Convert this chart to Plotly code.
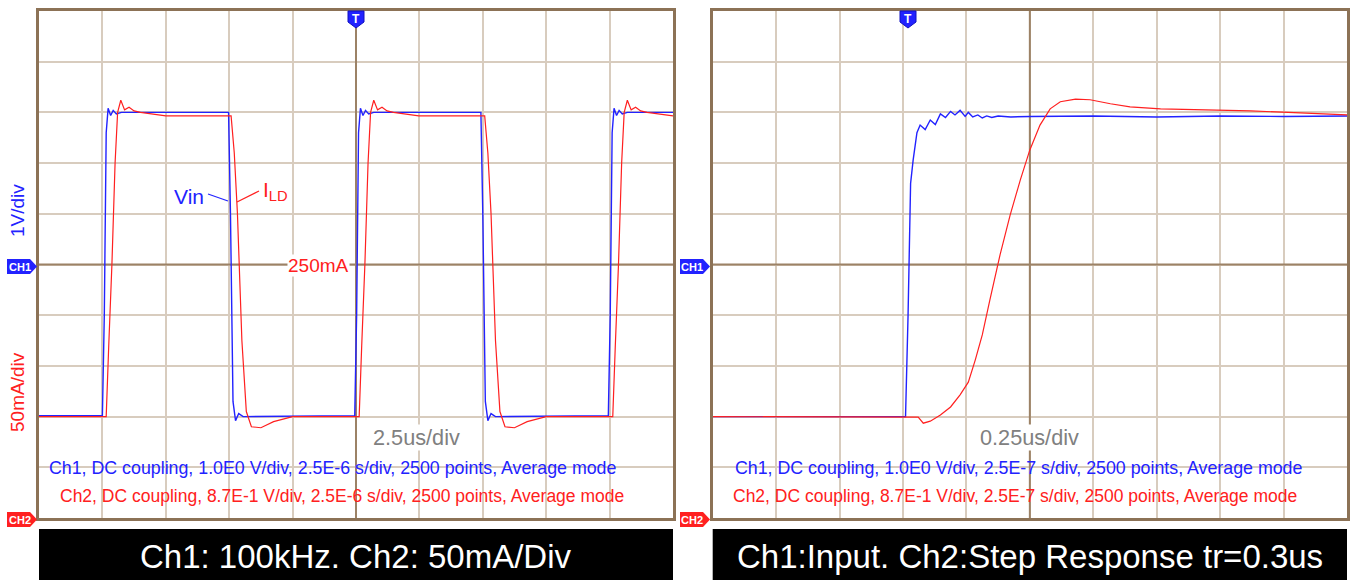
import plotly.graph_objects as go

W, H = 1351, 580

# ---------------- data (time in divisions, amplitude in divisions) ----------------
# Left panel: 100 kHz square wave, 2.5us/div
vin_l_t = [0, 1.00, 1.03, 1.06, 1.09, 1.13, 1.17, 1.22, 1.30, 2.99, 3.02, 3.06, 3.10, 3.15, 3.22,
           4.98, 5.01, 5.04, 5.07, 5.11, 5.15, 5.20, 5.28, 6.97, 7.00, 7.04, 7.08, 7.13, 7.20,
           8.98, 9.01, 9.04, 9.07, 9.11, 9.15, 9.20, 9.28, 10]
vin_l_v = [-2.98, -2.98, -1.0, 2.6, 3.08, 2.94, 3.04, 2.97, 3.0, 3.0, 1.0, -2.7, -3.08, -2.94, -3.0,
           -2.98, -1.0, 2.6, 3.08, 2.94, 3.04, 2.97, 3.0, 3.0, 1.0, -2.7, -3.08, -2.94, -3.0,
           -2.98, -1.0, 2.6, 3.08, 2.94, 3.04, 2.97, 3.0, 3.0]

ild_l_t = [0, 1.06, 1.10, 1.15, 1.20, 1.24, 1.29, 1.35, 1.42, 1.50, 1.60, 1.80, 2.00,
           3.03, 3.08, 3.13, 3.20, 3.27, 3.35, 3.50, 3.70, 4.00,
           5.05, 5.09, 5.14, 5.19, 5.23, 5.28, 5.34, 5.41, 5.49, 5.59, 5.79, 5.99,
           7.03, 7.08, 7.13, 7.20, 7.27, 7.35, 7.50, 7.70, 8.00,
           9.05, 9.09, 9.14, 9.19, 9.23, 9.28, 9.34, 9.41, 9.49, 9.59, 9.79, 10]
ild_l_v = [-3.0, -3.0, -1.6, 0.0, 2.0, 3.0, 3.24, 3.05, 3.10, 3.03, 3.0, 2.96, 2.93,
           2.93, 2.2, 1.0, -1.5, -2.9, -3.2, -3.22, -3.1, -3.0,
           -3.0, -1.6, 0.0, 2.0, 3.0, 3.24, 3.05, 3.10, 3.03, 3.0, 2.96, 2.93,
           2.93, 2.2, 1.0, -1.5, -2.9, -3.2, -3.22, -3.1, -3.0,
           -3.0, -1.6, 0.0, 2.0, 3.0, 3.24, 3.05, 3.10, 3.03, 3.0, 2.96, 2.93]

# Right panel: step response, 0.25us/div
vin_r_t = [0, 3.04, 3.08, 3.12, 3.16, 3.22, 3.27, 3.35, 3.43, 3.51, 3.59, 3.67, 3.75, 3.82,
           3.90, 3.98, 4.03, 4.10, 4.18, 4.25, 4.32, 4.40, 4.50, 4.70, 5.0, 6.0, 7.0, 8.0, 9.0, 10]
vin_r_v = [-3.0, -3.0, -1.0, 1.6, 2.06, 2.6, 2.75, 2.66, 2.85, 2.76, 2.97, 2.9, 3.02, 2.95,
           3.04, 2.92, 3.0, 2.91, 2.95, 2.89, 2.93, 2.9, 2.93, 2.91, 2.92, 2.93, 2.91, 2.93, 2.92, 2.93]

ild_r_t = [0, 3.24, 3.32, 3.43, 3.59, 3.75, 3.90, 4.03, 4.14, 4.25, 4.37, 4.53, 4.69, 4.85,
           5.00, 5.16, 5.32, 5.48, 5.72, 5.95, 6.27, 6.58, 7.06, 7.69, 8.48, 9.26, 10]
ild_r_v = [-3.0, -3.01, -3.13, -3.09, -2.97, -2.81, -2.57, -2.32, -1.88, -1.39, -0.70, 0.19, 0.98,
           1.67, 2.26, 2.75, 3.07, 3.21, 3.26, 3.25, 3.17, 3.11, 3.07, 3.05, 3.03, 2.99, 2.95]

info_l = ["Ch1, DC coupling, 1.0E0 V/div, 2.5E-6 s/div, 2500 points, Average mode",
          "Ch2, DC coupling, 8.7E-1 V/div, 2.5E-6 s/div, 2500 points, Average mode"]
info_r = ["Ch1, DC coupling, 1.0E0 V/div, 2.5E-7 s/div, 2500 points, Average mode",
          "Ch2, DC coupling, 8.7E-1 V/div, 2.5E-7 s/div, 2500 points, Average mode"]
captions = ["Ch1: 100kHz. Ch2: 50mA/Div", "Ch1:Input. Ch2:Step Response tr=0.3us"]
timebases = ["2.5us/div", "0.25us/div"]

# ---------------- styling ----------------
BLUE = "#2222ff"
RED = "#ff2020"
GRID = "#d8ccbe"
CENTER = "#9c8266"
BORDER = "#8c7256"
FONT = "Liberation Sans, Arial, sans-serif"


def px(x):
    return x / W


def py(y):
    return 1 - y / H


def note(x, y, text, size, color, xanchor="center", **kw):
    return dict(xref="paper", yref="paper", x=px(x), y=py(y), text=text, showarrow=False,
                xanchor=xanchor, yanchor="middle",
                font=dict(family=FONT, size=size, color=color), **kw)


fig = go.Figure()
fig.add_trace(go.Scatter(x=vin_l_t, y=vin_l_v, mode="lines", line=dict(color=BLUE, width=1.4),
                         xaxis="x", yaxis="y", hoverinfo="skip"))
fig.add_trace(go.Scatter(x=ild_l_t, y=ild_l_v, mode="lines", line=dict(color=RED, width=1.2),
                         xaxis="x", yaxis="y", hoverinfo="skip"))
fig.add_trace(go.Scatter(x=vin_r_t, y=vin_r_v, mode="lines", line=dict(color=BLUE, width=1.4),
                         xaxis="x2", yaxis="y2", hoverinfo="skip"))
fig.add_trace(go.Scatter(x=ild_r_t, y=ild_r_v, mode="lines", line=dict(color=RED, width=1.2),
                         xaxis="x2", yaxis="y2", hoverinfo="skip"))

panels = [(39, 673), (712.7, 1347)]
ytop, ybot = 11, 518

ax_common = dict(dtick=1, tick0=0, showgrid=True, gridcolor=GRID, gridwidth=2,
                 zeroline=False, showticklabels=False, ticks="", showline=True,
                 linecolor=BORDER, linewidth=2.5, mirror=True, fixedrange=True)

fig.update_layout(
    width=W, height=H, margin=dict(l=0, r=0, t=0, b=0),
    paper_bgcolor="white", plot_bgcolor="white", showlegend=False,
    xaxis=dict(domain=[px(panels[0][0]), px(panels[0][1])], range=[0, 10], anchor="y", **ax_common),
    yaxis=dict(domain=[py(ybot), py(ytop)], range=[-5, 5], anchor="x", **ax_common),
    xaxis2=dict(domain=[px(panels[1][0]), px(panels[1][1])], range=[0, 10], anchor="y2", **ax_common),
    yaxis2=dict(domain=[py(ybot), py(ytop)], range=[-5, 5], anchor="x2", **ax_common),
)

shapes = []
annotations = []
for i, (xa, ya) in enumerate([("x", "y"), ("x2", "y2")]):
    # center cross lines
    shapes.append(dict(type="line", xref=xa, yref=ya, x0=5, x1=5, y0=-5, y1=5,
                       line=dict(color=CENTER, width=2), layer="between"))
    shapes.append(dict(type="line", xref=xa, yref=ya, x0=0, x1=10, y0=0, y1=0,
                       line=dict(color=CENTER, width=2), layer="between"))
    x0, x1 = panels[i]
    # black caption bar
    shapes.append(dict(type="rect", xref="paper", yref="paper", x0=px(x0), x1=px(x1),
                       y0=0, y1=py(529), fillcolor="black", line=dict(width=0)))
    annotations.append(note((x0 + x1) / 2, 556, captions[i], 33, "white"))
    # info lines
    info = info_l if i == 0 else info_r
    ix = [47, 58] if i == 0 else [733, 731]
    annotations.append(note(ix[0], 468, info[0], 17.8, BLUE, xanchor="left"))
    annotations.append(note(ix[1], 496, info[1], 17.5, RED, xanchor="left"))
    # timebase
    tbx = 416 if i == 0 else 1029
    annotations.append(note(tbx, 437, timebases[i], 21.7, "#808080", bgcolor="white", borderpad=0))
    # CH1 / CH2 markers
    mx = 7 if i == 0 else 680
    for lab, cy, col in [("CH1", 266.5, BLUE), ("CH2", 519.5, RED)]:
        path = "M {},{} L {},{} L {},{} L {},{} L {},{} Z".format(
            px(mx), py(cy - 7.5), px(mx + 23), py(cy - 7.5), px(mx + 30), py(cy),
            px(mx + 23), py(cy + 7.5), px(mx), py(cy + 7.5))
        shapes.append(dict(type="path", xref="paper", yref="paper", path=path,
                           fillcolor=col, line=dict(width=0)))
        annotations.append(note(mx + 12.5, cy + 0.5, "<b>" + lab + "</b>", 11, "white"))
    # trigger marker
    tx = 356 if i == 0 else 908
    path = "M {},{} L {},{} L {},{} L {},{} L {},{} Z".format(
        px(tx - 8), py(11), px(tx + 8), py(11), px(tx + 8), py(22),
        px(tx), py(28), px(tx - 8), py(22))
    shapes.append(dict(type="path", xref="paper", yref="paper", path=path,
                       fillcolor=BLUE, line=dict(color="#1010c0", width=1)))
    annotations.append(note(tx, 18.5, "<b>T</b>", 12, "white"))

# trace labels (left panel)
annotations.append(note(189, 197, "Vin", 21, BLUE))
annotations.append(note(261, 191, "I<sub>LD</sub>", 21, RED, xanchor="left"))
shapes.append(dict(type="line", xref="paper", yref="paper", x0=px(208), y0=py(194),
                   x1=px(228), y1=py(201), line=dict(color=BLUE, width=1.2)))
shapes.append(dict(type="line", xref="paper", yref="paper", x0=px(237), y0=py(202),
                   x1=px(259), y1=py(191), line=dict(color=RED, width=1.2)))
annotations.append(note(318, 266, "250mA", 19, RED, bgcolor="white", borderpad=0))
# vertical scale labels
annotations.append(note(17, 211, "1V/div", 19, BLUE, textangle=-90))
annotations.append(note(17, 392, "50mA/div", 19, RED, textangle=-90))

fig.update_layout(shapes=shapes, annotations=annotations)
fig.write_html("out.html")
